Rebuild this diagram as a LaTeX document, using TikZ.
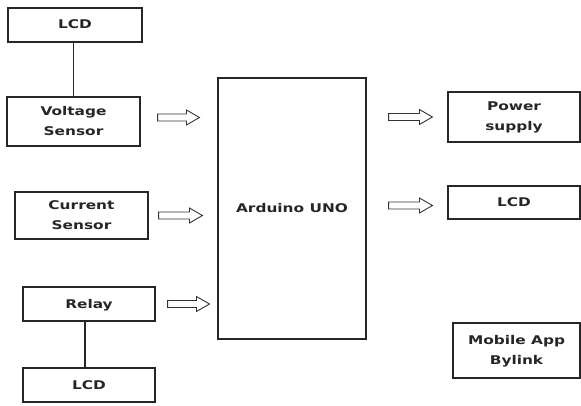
\documentclass[tikz,border=0pt]{standalone}
\usepackage{fontspec}
\setmainfont{DejaVu Sans}
\usetikzlibrary{calc}
\newcommand\wt[1]{\scalebox{1.28}[1]{\fontsize{12pt}{20pt}\selectfont\bfseries\begin{tabular}{@{}c@{}}#1\end{tabular}}}
\newcommand\fatarrow[4]{%
  \draw[fatline] let \p1=#1, \p2=#2 in
    (\x1+#3pt,\y1+3.5pt) -- (\x2-#4pt-13pt,\y1+3.5pt) -- (\x2-#4pt-13pt,\y1+7.5pt)
    -- (\x2-#4pt,\y1) -- (\x2-#4pt-13pt,\y1-7.5pt) -- (\x2-#4pt-13pt,\y1-3.5pt)
    -- (\x1+#3pt,\y1-3.5pt) -- cycle;}
\begin{document}
\begin{tikzpicture}[x=1pt,y=-1pt,
  box/.style={draw=black!85, line width=1.1pt, inner sep=0pt, text=black!85},
  fatline/.style={draw=black!80, line width=0.9pt, fill=white, line join=miter},
  link/.style={draw=black!85, line width=1.1pt}]
\useasboundingbox (0,0) rectangle (581,406);
\node[box, minimum width=134pt, minimum height=34pt] (lcda) at (75,25) {\wt{LCD}};
\node[box, minimum width=133pt, minimum height=49pt] (vs) at (73.5,121.5) {\wt{Voltage\\Sensor}};
\node[box, minimum width=133pt, minimum height=47pt] (cs) at (81.5,215.5) {\wt{Current\\Sensor}};
\node[box, minimum width=132pt, minimum height=34pt] (relay) at (89,304) {\wt{Relay}};
\node[box, minimum width=132pt, minimum height=34pt] (lcdc) at (89,385) {\wt{LCD}};
\node[box, minimum width=148pt, minimum height=261pt] (ard) at (292,208.5) {\wt{Arduino UNO}};
\node[box, minimum width=132pt, minimum height=50pt] (ps) at (514,117) {\wt{Power\\supply}};
\node[box, minimum width=132pt, minimum height=33pt] (lcdb) at (514,202.5) {\wt{LCD}};
\node[box, minimum width=127pt, minimum height=55pt] (app) at (516.5,350.5) {\wt{Mobile App\\Bylink}};
\draw[link] (vs.north) -- (vs.north |- lcda.south);
\draw[link] ([xshift=-4pt]relay.south) -- ([xshift=-4pt]lcdc.north);
\fatarrow{([yshift=4pt]vs.east)}{(ard.west)}{17}{18}
\fatarrow{(cs.east)}{(ard.west)}{10}{15}
\fatarrow{(relay.east)}{(ard.west)}{12}{8}
\fatarrow{(ard.east |- ps.west)}{(ps.west)}{22}{15}
\fatarrow{([yshift=-3pt]ard.east |- lcdb.west)}{(lcdb.west)}{22}{15}
\end{tikzpicture}
\end{document}
